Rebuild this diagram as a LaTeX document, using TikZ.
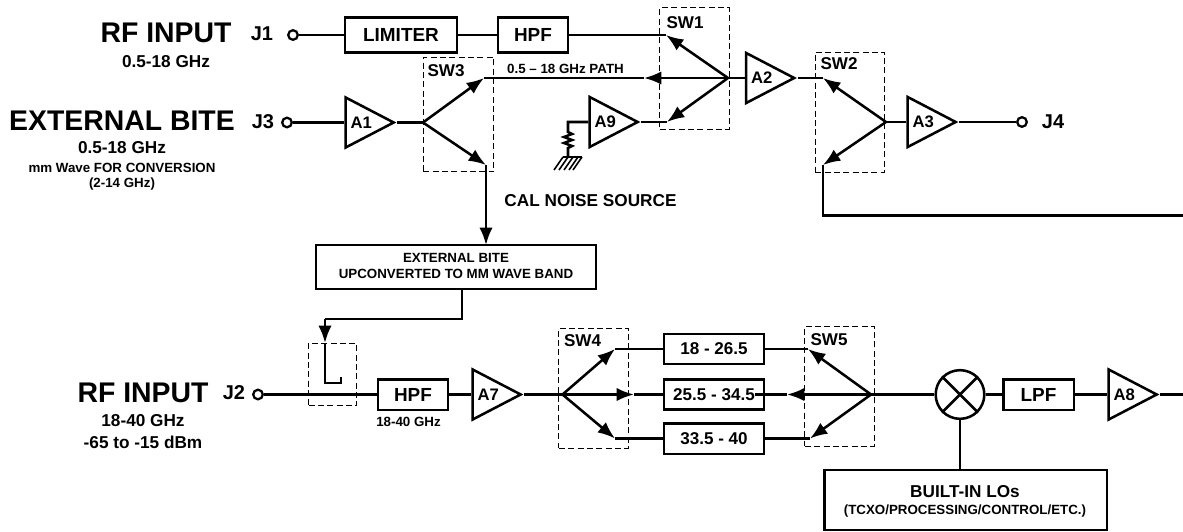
\documentclass[tikz,border=0pt]{standalone}
\usepackage{fontspec}
\setmainfont{Liberation Sans}
\usetikzlibrary{arrows.meta,shapes.geometric}

\newcommand{\bfsize}[1]{\fontsize{#1}{#1}\selectfont\bfseries}

\tikzset{
  wire/.style={line width=1.9pt},
  tipwire/.style={line width=1.9pt,-{Latex[length=13pt,width=10pt]}},
  block/.style={draw,line width=2pt,inner sep=0pt,font=\bfsize{14.2}},
  rangebox/.style={block,minimum width=75pt,minimum height=22.5pt,font=\bfsize{12.8}},
  amp/.style={draw,isosceles triangle,isosceles triangle stretches,line width=1.9pt,inner sep=0pt,
    minimum width=37.5pt,minimum height=36pt,anchor=apex,font=\bfsize{12.5}},
  dashbox/.style={draw,line width=.7pt,dash pattern=on 4.5pt off 2.5pt,inner sep=0pt},
  term/.style={circle,draw,line width=1.7pt,fill=white,inner sep=0pt,minimum size=7.2pt},
  title/.style={font=\bfsize{21.3}},
  jack/.style={font=\bfsize{15}},
  sublabel/.style={font=\bfsize{12.9}},
  tinylabel/.style={font=\bfsize{10}},
  swlabel/.style={font=\bfsize{12.8}}
}

\begin{document}
\begin{tikzpicture}[x=.75pt,y=-.75pt]
\useasboundingbox (0,0) rectangle (1183,532);

% upper path
\node[title] (t1) at (166,33) {RF INPUT};
\node[sublabel] (t1a) at (166,62) {0.5-18 GHz};
\node[jack] (n1) at (262,34) {J1};
\node[term] (j1) at (293,35) {};
\node[block,minimum width=84pt,minimum height=26pt] (limiter) at (401,35) {LIMITER};
\node[block,minimum width=52.5pt,minimum height=26pt] (hpfa) at (533,35) {HPF};
\coordinate (sw1a) at (666,35);
\draw[wire] (j1) -- (limiter);
\draw[wire] (limiter) -- (hpfa);
\draw[wire] (hpfa) -- (sw1a);

\node[title] (t3) at (122,121) {EXTERNAL BITE};
\node[sublabel] (t3a) at (122,148) {0.5-18 GHz};
\node[tinylabel] (t3b) at (122,168) {mm Wave FOR CONVERSION};
\node[tinylabel] (t3c) at (122,184) {(2-14 GHz)};
\node[jack] (n3) at (263,122) {J3};
\node[term] (j3) at (287,122.5) {};
\node[amp] (a1) at (397,122.5) {A1};
\coordinate (sw3pole) at (423,122.5);
\coordinate (sw3a) at (484,78);
\coordinate (sw3b) at (486,165);
\draw[wire] (j3) -- (a1.lower side);
\draw[wire] (a1.apex) -- (sw3pole);
\draw[tipwire] (sw3pole) -- (sw3a);
\draw[tipwire] (sw3pole) -- (sw3b);
\node[dashbox,minimum width=53pt,minimum height=86pt] (sw3) at (458.5,114.5) {};
\node[swlabel] (sw3t) at (446,71) {SW3};

\node[dashbox,minimum width=52pt,minimum height=91pt] (sw1) at (694.5,68.5) {};
\node[swlabel] (sw1t) at (685,23) {SW1};
\coordinate (sw1pole) at (728,78);
\coordinate (sw1mid) at (644,78);
\coordinate (sw1c) at (667,122);
\draw[tipwire] (sw1pole) -- (sw1a);
\draw[tipwire] (sw1pole) -- (sw1mid);
\draw[tipwire] (sw1pole) -- (sw1c);
\draw[wire] (sw1mid) -- (sw3a);
\node[tinylabel] (pathlabel) at (565.5,69) {0.5 -- 18 GHz PATH};

% noise source
\node[amp] (a9) at (641,122) {A9};
\coordinate (r1) at (568,122);
\coordinate (gnd) at (568,157);
\draw[wire] (a9.apex) -- (sw1c);
\draw[wire] (a9.lower side) -- (r1) -- (568,132) -- ++(4,2) -- ++(-8,3) -- ++(8,3) -- ++(-8,3) -- ++(8,3) -- ++(-4,2) -- (gnd);
\draw[wire] (gnd) ++(-5,0) -- ++(19,0);
\foreach \hx in {563,568,573,578,582}
  \draw[line width=1.2pt] (\hx,157) -- ++(-9,13);
\node[sublabel] (caltext) at (590.5,201) {CAL NOISE SOURCE};

% A2, A3
\node[amp] (a2) at (797.5,78) {A2};
\draw[wire] (sw1pole) -- (a2.lower side);
\node[dashbox,minimum width=52pt,minimum height=90pt] (sw2) at (850,112) {};
\node[swlabel] (sw2t) at (839,64) {SW2};
\coordinate (sw2pole) at (886,122);
\coordinate (sw2a) at (823,78);
\coordinate (sw2b) at (823,165);
\coordinate (sw2down) at (823,215.5);
\coordinate (rightedge) at (1183,215.5);
\draw[wire] (a2.apex) -- (sw2a);
\draw[tipwire] (sw2pole) -- (sw2a);
\draw[tipwire] (sw2pole) -- (sw2b);
\draw[wire] (sw2b) -- (sw2down) -- (rightedge);
\node[amp] (a3) at (959,122) {A3};
\node[term] (j4) at (1022,122) {};
\node[jack] (n4) at (1053,122) {J4};
\draw[wire] (sw2pole) -- (a3.lower side);
\draw[wire] (a3.apex) -- (j4);

% upconverter
\node[block,minimum width=210pt,minimum height=33pt] (upconv) at (456,267) {};
\node[tinylabel] (up1) at (456,258) {EXTERNAL BITE};
\node[tinylabel] (up2) at (456,274) {UPCONVERTED TO MM WAVE BAND};
\coordinate (upin) at (486,245);
\coordinate (upout) at (462,289);
\coordinate (bend) at (325,319);
\coordinate (coupin) at (325,343);
\coordinate (coupa) at (325,383);
\coordinate (coupb) at (341,383);
\draw[tipwire] (sw3b) -- (upin);
\draw[wire] (upout) -- (462,319) -- (bend);
\draw[tipwire] (bend) -- (coupin);
\draw[wire] (coupin) -- (coupa) -- (coupb) -- (341,377);
\node[dashbox,minimum width=36pt,minimum height=47pt] (coupler) at (332.5,374.5) {};

% lower path
\node[title] (t2) at (143,393) {RF INPUT};
\node[sublabel] (t2a) at (143,421) {18-40 GHz};
\node[sublabel] (t2b) at (143,442) {-65 to -15 dBm};
\node[jack] (n2) at (234,393) {J2};
\node[term] (j2) at (258,394.5) {};
\node[block,minimum width=52.5pt,minimum height=23pt] (hpfb) at (413,394.5) {HPF};
\node[tinylabel] (hpft) at (408.5,422) {18-40 GHz};
\node[amp] (a7) at (524,394.5) {A7};
\coordinate (sw4pole) at (562.5,394.5);
\draw[wire] (j2) -- (hpfb);
\draw[wire] (hpfb) -- (a7.lower side);
\draw[wire] (a7.apex) -- (sw4pole);
\node[dashbox,minimum width=52pt,minimum height=90pt] (sw4) at (593.5,388) {};
\node[swlabel] (sw4t) at (582.5,341) {SW4};

\node[rangebox] (fa) at (714,349) {18 - 26.5};
\node[rangebox] (fb) at (714,394.5) {25.5 - 34.5};
\node[rangebox,minimum height=23pt] (fc) at (714,438.5) {33.5 - 40};
\coordinate (sw4a) at (615,349);
\coordinate (sw4b) at (634,394.5);
\coordinate (sw4c) at (615,438.5);
\draw[tipwire] (sw4pole) -- (sw4a);
\draw[tipwire] (sw4pole) -- (sw4b);
\draw[tipwire] (sw4pole) -- (sw4c);
\draw[wire] (sw4a) -- (fa);
\draw[wire] (sw4b) -- (fb);
\draw[wire] (sw4c) -- (fc);

\node[dashbox,minimum width=52pt,minimum height=90pt] (sw5) at (839.5,386) {};
\node[swlabel] (sw5t) at (829,340) {SW5};
\coordinate (sw5pole) at (871,394.5);
\coordinate (sw5a) at (808,349);
\coordinate (sw5b) at (787,394.5);
\coordinate (sw5c) at (810,438.5);
\coordinate (fbin) at (755,394.5);
\draw[tipwire] (sw5pole) -- (sw5a);
\draw[tipwire] (sw5pole) -- (sw5b);
\draw[tipwire] (sw5pole) -- (sw5c);
\draw[wire] (fa) -- (sw5a);
\draw[wire] (fbin) -- (sw5b);
\draw[wire] (fc) -- (sw5c);

% mixer
\node[draw,circle,line width=1.9pt,minimum size=36.5pt,inner sep=0pt] (mixer) at (960,394.5) {};
\draw[wire] (mixer.north west) -- (mixer.south east);
\draw[wire] (mixer.north east) -- (mixer.south west);
\node[block,minimum width=53pt,minimum height=23pt] (lpf) at (1038.5,394.5) {LPF};
\node[amp] (a8) at (1160,394.5) {A8};
\coordinate (rightout) at (1183,394.5);
\draw[wire] (sw5pole) -- (mixer);
\draw[wire] (mixer) -- (lpf);
\draw[wire] (lpf) -- (a8.lower side);
\draw[wire] (a8.apex) -- (rightout);

\node[block,minimum width=212pt,minimum height=45pt] (lo) at (965.5,500) {};
\node[sublabel] (lo1) at (965,492) {BUILT-IN LOs};
\node[tinylabel] (lo2) at (965,511) {(TCXO/PROCESSING/CONTROL/ETC.)};
\draw[wire] (mixer) -- (mixer |- lo.north);

\end{tikzpicture}
\end{document}
